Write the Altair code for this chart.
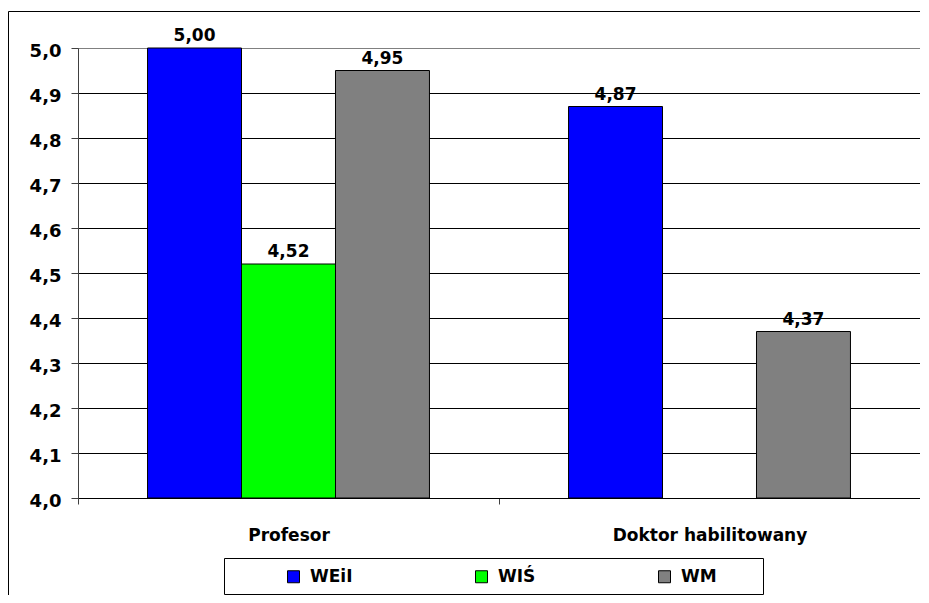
import altair as alt
import pandas as pd

categories = ["Profesor", "Doktor habilitowany"]
series = ["WEiI", "WIŚ", "WM"]
colors = ["#0000FF", "#00FF00", "#808080"]
values_profesor = [5.00, 4.52, 4.95]
values_doktor = [4.87, None, 4.37]
y_ticks = [4.0, 4.1, 4.2, 4.3, 4.4, 4.5, 4.6, 4.7, 4.8, 4.9, 5.0]

rows = []
for cat, vals in zip(categories, [values_profesor, values_doktor]):
    for s, v in zip(series, vals):
        if v is not None:
            rows.append({"category": cat, "series": s, "value": v})
df = pd.DataFrame(rows)

FONT = "DejaVu Sans"

x_enc = alt.X(
    "category:N",
    sort=categories,
    scale=alt.Scale(paddingInner=0, paddingOuter=0),
    axis=alt.Axis(
        title=None, labelAngle=0, tickBand="extent", grid=False,
        domainColor="#000000", tickColor="#404040", tickSize=6,
        labelFont=FONT, labelFontSize=17, labelFontWeight="bold",
        labelColor="#000000", labelPadding=23, labelLimit=400,
    ),
)
xoff = alt.XOffset("series:N", sort=series,
                   scale=alt.Scale(domain=series, paddingInner=0, paddingOuter=0.74))
y_enc = alt.Y(
    "value:Q",
    scale=alt.Scale(domain=[4.0, 5.0], zero=False, nice=False),
    axis=alt.Axis(
        title=None, values=y_ticks,
        labelExpr="replace(format(datum.value, '.1f'), '.', ',')",
        labelFont=FONT, labelFontSize=18, labelFontWeight="bold",
        labelColor="#000000", labelPadding=10, labelOffset=3,
        tickSize=7, tickColor="#404040", domainColor="#404040",
        grid=True,
        gridColor={"condition": {"test": "datum.value >= 5", "value": "#808080"},
                   "value": "#000000"},
        gridWidth=1,
    ),
)

bars = alt.Chart(df).mark_bar(stroke="#000000", strokeWidth=1).encode(
    x=x_enc,
    xOffset=xoff,
    y=y_enc,
    y2=alt.datum(4.0),
    color=alt.Color(
        "series:N",
        scale=alt.Scale(domain=series, range=colors),
        legend=alt.Legend(
            title=None, orient="none", legendX=207, legendY=520,
            direction="horizontal", columns=3, columnPadding=120,
            padding=0, symbolType="square", symbolSize=144,
            symbolStrokeColor="#000000", symbolStrokeWidth=1,
            labelFont=FONT, labelFontSize=17, labelFontWeight="bold",
            labelColor="#000000", labelOffset=8,
        ),
    ),
)

labels = alt.Chart(df).transform_calculate(
    label="replace(format(datum.value, '.2f'), '.', ',')"
).mark_text(
    font=FONT, fontSize=17, fontWeight="bold", color="#000000",
    baseline="alphabetic", dy=-7,
).encode(
    x=alt.X("category:N", sort=categories),
    xOffset=xoff,
    y=alt.Y("value:Q"),
    text="label:N",
)

frame_data = pd.DataFrame({"k": [0]})
outer = alt.Chart(frame_data).mark_rect(
    fill="transparent", stroke="#000000", strokeWidth=1
).encode(
    x=alt.value(-69.5), x2=alt.value(900), y=alt.value(-36.5), y2=alt.value(600)
)
legend_box = alt.Chart(frame_data).mark_rect(
    fill="transparent", stroke="#000000", strokeWidth=1
).encode(
    x=alt.value(146.5), x2=alt.value(685.5), y=alt.value(510.5), y2=alt.value(546.5)
)

chart = alt.layer(outer, bars, labels, legend_box).properties(
    width=842, height=450,
    autosize=alt.AutoSizeParams(type="none"),
    padding={"left": 70, "top": 40, "right": 0, "bottom": 97},
    background="#FFFFFF",
).configure_view(
    stroke="#808080", strokeWidth=1
).resolve_scale(x="shared")

chart.save("out.html", embed_options={"renderer": "svg", "actions": False})
